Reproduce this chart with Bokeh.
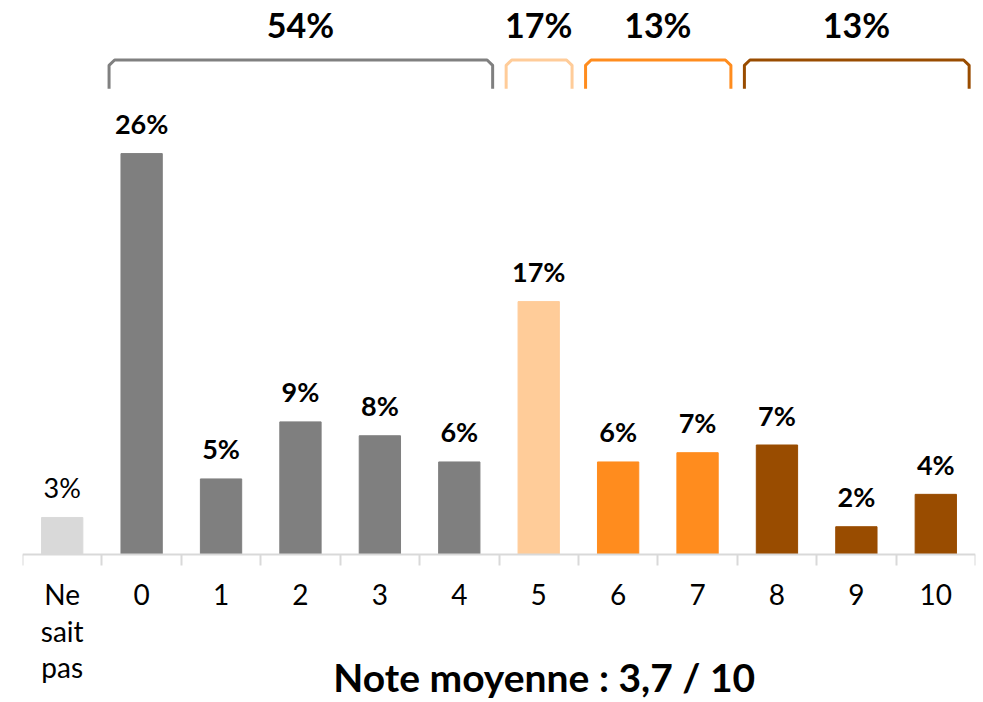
from bokeh.plotting import figure
from bokeh.models import (ColumnDataSource, Range1d, LinearAxis, FixedTicker)
from bokeh.core.properties import value
from bokeh.embed import file_html
from bokeh.resources import INLINE

# ---- data ----
categories = ["Ne sait pas", "0", "1", "2", "3", "4", "5", "6", "7", "8", "9", "10"]
tick_labels = ["Ne\nsait\npas", "0", "1", "2", "3", "4", "5", "6", "7", "8", "9", "10"]
shares = [2.4, 26.0, 4.9, 8.6, 7.7, 6.0, 16.4, 6.0, 6.6, 7.1, 1.8, 3.9]
share_labels = ["3%", "26%", "5%", "9%", "8%", "6%", "17%", "6%", "7%", "7%", "2%", "4%"]
bar_colors = ["#d9d9d9", "#7f7f7f", "#7f7f7f", "#7f7f7f", "#7f7f7f", "#7f7f7f",
              "#ffcc99", "#ff8c1e", "#ff8c1e", "#994c00", "#994c00", "#994c00"]

group_labels = ["54%", "17%", "13%", "13%"]
group_first = ["0", "5", "6", "8"]
group_last = ["4", "5", "7", "10"]
group_colors = ["#808080", "#ffcc99", "#ff8c1e", "#994c00"]

mean_text = "Note moyenne : 3,7 / 10"

FONT = "Lato"

# ---- figure ----
p = figure(width=983, height=702, frame_width=953, frame_height=694,
           output_backend="svg", toolbar_location=None,
           x_range=Range1d(-0.5, len(categories) - 0.5), y_range=Range1d(-9.6, 35.41),
           min_border_left=22, min_border_right=8, min_border_top=8,
           min_border_bottom=0, x_axis_type=None, y_axis_type=None)
p.outline_line_color = None
p.xgrid.visible = False
p.ygrid.visible = False
p.background_fill_color = "white"
p.border_fill_color = "white"

xs = list(range(len(categories)))
src = ColumnDataSource(dict(
    x=xs, top=shares, color=bar_colors, label=share_labels,
    style=["normal"] + ["bold"] * (len(categories) - 1)))

p.vbar(x="x", top="top", bottom=0, width=0.52, color="color", source=src)
p.text(x="x", y="top", text="label", source=src, text_align="center",
       text_baseline="alphabetic", y_offset=-30, text_font=value(FONT),
       text_font_size="27px", text_font_style="style", text_color="black")

# ---- axis pinned at zero ----
ax = LinearAxis(fixed_location=0)
ax.ticker = FixedTicker(ticks=xs, minor_ticks=[i - 0.5 for i in range(len(categories) + 1)])
ax.major_label_overrides = {i: t for i, t in zip(xs, tick_labels)}
ax.axis_line_color = "#d9d9d9"
ax.axis_line_width = 2
ax.major_tick_line_color = None
ax.major_tick_out = 0
ax.major_tick_in = 0
ax.minor_tick_line_color = "#d9d9d9"
ax.minor_tick_line_width = 2
ax.minor_tick_out = 11
ax.minor_tick_in = 0
ax.major_label_standoff = 12
ax.major_label_text_font = FONT
ax.major_label_text_font_size = "28px"
ax.major_label_text_color = "black"
ax.major_label_text_line_height = 1.07
p.add_layout(ax, "below")

# ---- group brackets ----
y_top, y_bot = 32.07, 30.2
dx, dy = 0.07, 0.35
b_xs, b_ys = [], []
for f, l in zip(group_first, group_last):
    s = categories.index(f) - 0.41
    e = categories.index(l) + 0.42
    b_xs.append([s, s, s + dx, e - dx, e, e])
    b_ys.append([y_bot, y_top - dy, y_top, y_top, y_top - dy, y_bot])
p.multi_line(xs=b_xs, ys=b_ys, line_color=group_colors, line_width=3,
             line_join="round", line_cap="butt")

gx = [(categories.index(f) + categories.index(l)) / 2 for f, l in zip(group_first, group_last)]
p.text(x=gx, y=[34.35] * len(gx), text=group_labels, text_align="center",
       text_baseline="alphabetic", text_font=value(FONT), text_font_size="34px",
       text_font_style="bold", text_color="black")

# ---- mean note ----
p.text(x=[6.07], y=[-7.95], text=[mean_text], text_align="center",
       text_baseline="alphabetic", text_font=value(FONT), text_font_size="39px",
       text_font_style="bold", text_color="black")

open("out.html", "w").write(file_html(p, INLINE))
